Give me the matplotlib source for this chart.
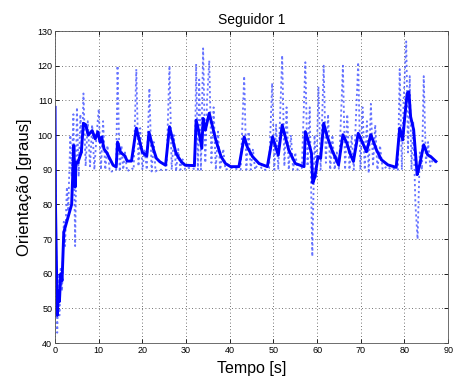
import matplotlib
matplotlib.use("Agg")
import matplotlib.pyplot as plt

title = "Seguidor 1"
xlabel = "Tempo [s]"
ylabel = "Orientação [graus]"
xticks = [0, 10, 20, 30, 40, 50, 60, 70, 80, 90]
yticks = [40, 50, 60, 70, 80, 90, 100, 110, 120, 130]

# filtered (solid) orientation
t_solid = [0, 0.1, 0.5, 0.8, 1.0, 1.3, 1.6, 2.0, 3.8, 4.3, 4.6, 4.8, 5.2, 6.0, 6.5,
           7.0, 7.6, 8.5, 9.2, 9.8, 10.3, 10.7, 11.2, 11.8, 13.3, 14.0, 14.3, 15.0,
           16.0, 16.5, 17.5, 18.6, 19.2, 20.0, 21.0, 21.5, 22.5, 23.2, 24.0, 25.3,
           26.2, 27.7, 28.9, 29.8, 31.9, 32.3, 33.0, 33.6, 33.9, 34.4, 35.3, 36.8,
           38.0, 39.0, 40.2, 42.1, 43.3, 44.0, 45.2, 46.7, 48.6, 49.8, 51.1, 52.0,
           53.5, 55.0, 57.0, 57.3, 58.1, 58.7, 59.0, 59.5, 60.2, 60.8, 61.5, 62.3,
           63.4, 64.9, 65.9, 66.8, 67.5, 68.3, 69.4, 70.6, 71.3, 72.3, 73.6, 74.7,
           76.2, 78.1, 78.9, 79.6, 80.0, 80.6, 81.0, 81.4, 82.1, 82.9, 83.4, 84.4,
           84.7, 85.3, 86.0, 87.2]
y_solid = [108, 80, 48, 55, 52, 60, 58, 72, 80, 97, 85, 92, 92, 95, 103.4,
           103, 100, 101.3, 98.9, 100.9, 98, 99.4, 96, 95, 91.3, 90.8, 98, 95,
           94, 92.5, 92.5, 102, 99, 95, 94, 100.8, 96, 93.3, 92.3, 91.3,
           102.4, 94.7, 92.3, 91.3, 91.2, 104.3, 100.5, 96.2, 104.8, 101.4, 106.3, 98.6,
           93.8, 91.8, 90.9, 90.9, 99.5, 96.6, 93.8, 91.8, 90.9, 99.5, 94.2, 102.9,
           95.7, 91.8, 90.9, 101, 97.7, 94.8, 86.2, 88, 93.8, 93.3, 103.4, 99.6,
           95.7, 91.4, 100.1, 97.7, 94.8, 92.4, 100.5, 97.2, 95.2, 100.1, 95.7, 92.9,
           91.4, 90.7, 102, 98.6, 104.4, 112, 112.5, 105.3, 101.5, 88.6, 91, 97.2,
           96.2, 94.3, 93.8, 92.4]

# raw (dotted) orientation
t_raw = [0.0, 0.5, 0.8, 1.0, 1.3, 1.6, 2.0, 2.3, 2.7, 3.0, 3.5, 3.8, 4.2, 4.6, 5.0,
         5.4, 5.8, 6.2, 6.5, 7.0, 7.5, 8.0, 8.5, 9.0, 9.5, 10.0, 10.5, 11.0, 11.5,
         12.0, 12.5, 13.0, 13.5, 14.0, 14.3, 14.8, 15.2, 15.6, 16.0, 16.5, 17.0,
         17.5, 18.0, 18.6, 19.1, 19.5, 20.0, 20.5, 21.0, 21.6, 22.1, 22.6, 23.0,
         23.5, 24.5, 25.5, 26.2, 26.7, 27.2, 27.7, 28.2, 28.7, 29.2, 29.8, 30.5,
         31.5, 32.0, 32.3, 32.7, 33.0, 33.4, 33.9, 34.4, 34.8, 35.3, 35.8, 36.3,
         36.8, 37.3, 37.8, 38.5, 39.0, 40.0, 41.0, 42.0, 42.5, 43.3, 43.8, 44.3,
         44.8, 45.3, 45.8, 46.5, 47.5, 48.5, 49.0, 49.7, 50.2, 50.6, 51.1, 52.0,
         52.5, 53.0, 53.5, 54.0, 54.5, 55.0, 55.5, 56.5, 57.3, 57.8, 58.3, 58.9,
         59.4, 59.8, 60.3, 60.8, 61.5, 62.0, 62.5, 63.0, 63.5, 64.0, 64.5, 65.0,
         65.9, 66.4, 66.9, 67.4, 67.9, 68.4, 69.4, 69.9, 70.4, 70.9, 71.4, 71.8,
         72.3, 72.8, 73.3, 73.8, 74.4, 75.0, 76.0, 77.0, 78.0, 78.5, 78.9, 79.4,
         79.8, 80.4, 80.8, 81.2, 81.6, 82.0, 82.5, 83.0, 83.5, 84.0, 84.4, 84.9,
         85.4, 85.9, 86.5, 87.2]
y_raw = [90, 43, 60, 48, 62, 55, 75, 68, 85, 78, 100, 88, 106, 68, 108,
         88, 106, 95, 112, 91, 104, 91, 103, 90, 100, 107.5, 90, 104, 90,
         97, 89.5, 89.5, 89.8, 90, 120, 89.5, 97, 90, 95, 89.5, 90,
         90.5, 90, 119, 91, 102, 90, 96, 90, 113.5, 89.5, 98, 89.5,
         90, 90, 90, 120, 90, 100, 89.5, 96, 90, 93, 90, 90.5,
         90.5, 90, 120.5, 90, 116, 90, 125, 92, 110, 121.5, 92, 108,
         90, 101, 90, 96, 90, 90.5, 90.5, 90, 90, 117, 90, 101,
         90, 96, 90, 92, 90, 90, 90.5, 115, 90, 103, 90, 123,
         91, 108, 90, 100, 90, 95, 90, 90.5, 121, 91, 108, 65,
         100, 88, 114, 90, 120, 92, 106, 90, 100, 90, 95, 90,
         120, 90, 106, 90, 100, 90, 121, 90, 108, 90, 104, 89,
         109, 91, 103, 90, 97, 90, 91, 90, 90.5, 90, 119, 90,
         110, 127, 95, 117, 90, 104, 80, 70, 95, 90, 117, 92,
         98, 91, 93, 92]

plt.rcParams['font.family'] = ['Liberation Sans', 'DejaVu Sans']

fig = plt.figure(figsize=(4.55, 3.83), dpi=100)
ax = fig.add_axes([0.121, 0.104, 0.864, 0.815])

ax.plot(t_raw, y_raw, linestyle=(0, (1.2, 1.6)), color='#4050ff', linewidth=1.3, alpha=0.8)
ax.plot(t_solid, y_solid, linestyle='-', color='#0000ff', linewidth=2.1)

ax.set_xlim(0, 90)
ax.set_ylim(40, 130)
ax.set_xticks(xticks)
ax.set_yticks(yticks)
ax.tick_params(direction='in', length=3, labelsize=6.5, top=True, right=True, width=0.6, pad=2)
ax.grid(True, linestyle=(0, (1, 3)), color='#444444', linewidth=0.6)
for s in ax.spines.values():
    s.set_linewidth(0.6)
    s.set_color('#555555')

ax.set_title(title, fontsize=10, pad=5)
ax.set_xlabel(xlabel, fontsize=11.5, labelpad=4)
ax.set_ylabel(ylabel, fontsize=12, labelpad=4)

fig.savefig("out.png", dpi=100, facecolor='white')
